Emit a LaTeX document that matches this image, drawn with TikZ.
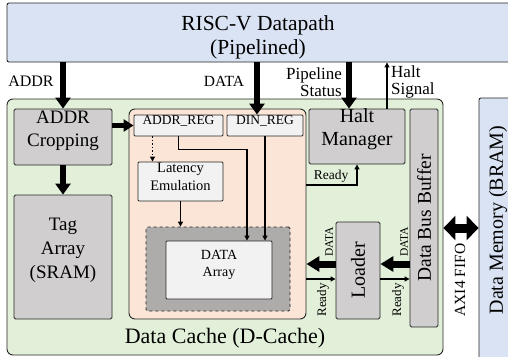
\documentclass[tikz,border=0pt]{standalone}
\usepackage{fontspec}
\setmainfont{Liberation Serif}
\usetikzlibrary{arrows.meta,fit,calc}

\definecolor{dpblue}{HTML}{DAE3F3}
\definecolor{cachegreen}{HTML}{E2F0D9}
\definecolor{coreorange}{HTML}{FBE5D6}
\definecolor{blockgray}{HTML}{D0CECE}
\definecolor{arraygray}{HTML}{AEABAB}
\definecolor{reglight}{HTML}{F2F2F2}
\definecolor{edge}{HTML}{262626}

\newcommand\fsz[2]{\fontsize{#1}{#2}\selectfont}

\begin{document}
\begin{tikzpicture}[x=1pt,y=-1pt,
  region/.style={draw=edge, line width=0.9pt, rounded corners=6pt, inner sep=0pt},
  block/.style={draw=edge, line width=0.9pt, fill=blockgray, rounded corners=1.5pt, inner sep=0pt, align=center},
  reg/.style={draw=edge, line width=0.9pt, fill=reglight, rounded corners=1pt, inner sep=0pt, align=center},
  bus/.style={line width=6pt, -{Triangle[width=15pt,length=11pt]}},
  wide bus/.style={line width=9pt, {Triangle[width=24pt,length=12pt]}-{Triangle[width=24pt,length=12pt]}},
  sig/.style={line width=1.5pt, -{Triangle[width=5pt,length=5pt]}},
  lbl/.style={inner sep=0pt, align=center},
]
\useasboundingbox (0,0) rectangle (508,356);
\clip (0,0) rectangle (508,356);
\fill[white] (0,0) rectangle (508,356);

% ---------- processor and memory ----------
\node[region, rounded corners=2pt, fill=dpblue, fit={(7,3)(520,62)}] (dp) {};
\node[lbl, font=\fsz{21.5}{24}] (dptxt) at (258,37) {RISC-V Datapath\\(Pipelined)};

\node[region, rounded corners=2pt, fill=dpblue, fit={(479,98)(520,362)}] (mem) {};
\node[lbl, rotate=90, font=\fsz{20}{24}] (memtxt) at (498,220) {Data Memory (BRAM)};

% ---------- data cache ----------
\node[region, fill=cachegreen, fit={(7,99)(443,355)}] (cache) {};
\node[lbl, font=\fsz{22}{26}] (cachetxt) at (225,338) {Data Cache (D-Cache)};

\node[block, font=\fsz{19}{23}, fit={(14,109)(112,165)}] (crop) {ADDR\\Cropping};
\node[block, font=\fsz{19}{24}, fit={(14,195)(112,319)}] (tag) {Tag\\Array\\(SRAM)};

\node[region, fill=coreorange, fit={(129,109)(306,319)}] (core) {};
\node[reg, font=\fsz{13.5}{16}, fit={(134,115)(223,136)}] (areg) {ADDR\_REG};
\node[reg, font=\fsz{13.5}{16}, fit={(227,115)(303,136)}] (dreg) {DIN\_REG};
\node[reg, font=\fsz{14.5}{18}, fit={(138,162)(223,201)}] (lat) {Latency\\Emulation};
\node[draw=edge, line width=0.8pt, dashed, fill=arraygray, rounded corners=1.5pt, inner sep=0pt, fit={(146,227)(290,311)}] (arr) {};
\node[reg, font=\fsz{14}{17}, fit={(166,241)(272,299)}] (darr) {DATA\\Array};

\node[block, font=\fsz{20}{23}, fit={(309,109)(405,164)}] (halt) {Halt\\Manager};
\node[block, fit={(410,109)(438,327)}] (dbb) {};
\node[lbl, rotate=90, font=\fsz{19.5}{22}] (dbbtxt) at (dbb.center) {Data Bus Buffer};
\node[block, fit={(336,222)(380,319)}] (loader) {};
\node[lbl, rotate=90, font=\fsz{20}{22}] (loadtxt) at (loader.center) {Loader};

% ---------- processor interface ----------
\draw[bus] (dp.south -| crop.north) -- (crop.north);
\node[lbl, font=\fsz{16}{18}] (addrlbl) at (31,81) {ADDR};
\draw[bus] ([xshift=-8pt]dp.south -| dreg.north) -- ([xshift=-8pt]dreg.north);
\node[lbl, font=\fsz{15.5}{18}] (datalbl) at (224,81) {DATA};
\draw[bus] ([xshift=-8pt]dp.south -| halt.north) -- ([xshift=-8pt]halt.north);
\node[lbl, align=right, anchor=east, font=\fsz{17}{17.5}] (pslbl) at (342,82) {Pipeline\\Status};
\draw[sig] ([xshift=30pt]halt.north) -- ([xshift=30pt]halt.north |- dp.south);
\node[lbl, align=left, anchor=west, font=\fsz{17}{17.5}] (hslbl) at (391,82) {Halt\\Signal};

% ---------- inside the cache ----------
\draw[bus, line width=5pt, -{Triangle[width=12pt,length=10pt]}] (crop.east |- areg) -- (areg.west);
\draw[bus] (crop.south) -- (tag.north);
\draw[sig, dotted] ([xshift=-26pt]areg.south) -- ([xshift=-26pt]areg.south |- lat.north);
\draw[sig] (lat.south) -- (lat.south |- arr.north);
\draw[sig] (areg.south) -- ++(0,13) -| ([xshift=28pt]darr.north);
\draw[sig] (dreg.south) -- (dreg.south |- darr.north);

\coordinate (rdy) at (357,185);
\draw[sig] (rdy -| core.east) -| (halt.south);
\node[lbl, font=\fsz{13.5}{15}] (rdylbl) at (331,176) {Ready};

% ---------- loader paths ----------
\draw[bus, line width=7pt, -{Triangle[width=15pt,length=13pt]}] ([yshift=6.5pt]loader.west) -- ([yshift=6.5pt]loader.west -| core.east);
\draw[bus, line width=7pt, -{Triangle[width=15pt,length=13pt]}] ([yshift=6.5pt]loader.west -| dbb.west) -- ([yshift=6.5pt]loader.east);
\draw[sig] ([yshift=-8.5pt]loader.west -| core.east) -- ([yshift=-8.5pt]loader.west);
\draw[sig] ([yshift=-8.5pt]loader.east) -- ([yshift=-8.5pt]loader.east -| dbb.west);
\node[lbl, rotate=90, font=\fsz{11.5}{13}] (ld1) at (329,242) {DATA};
\node[lbl, rotate=90, font=\fsz{11.5}{13}] (ld2) at (404,242) {DATA};
\node[lbl, rotate=90, font=\fsz{13}{14}] (lr1) at (323,300) {Ready};
\node[lbl, rotate=90, font=\fsz{13}{14}] (lr2) at (398,300) {Ready};

% ---------- AXI link ----------
\coordinate (axi) at (461,228);
\draw[wide bus] (axi -| cache.east) -- (axi -| mem.west);
\node[lbl, rotate=90, font=\fsz{15.5}{18}] (axitxt) at (460,280) {AXI4 FIFO};
\end{tikzpicture}
\end{document}
